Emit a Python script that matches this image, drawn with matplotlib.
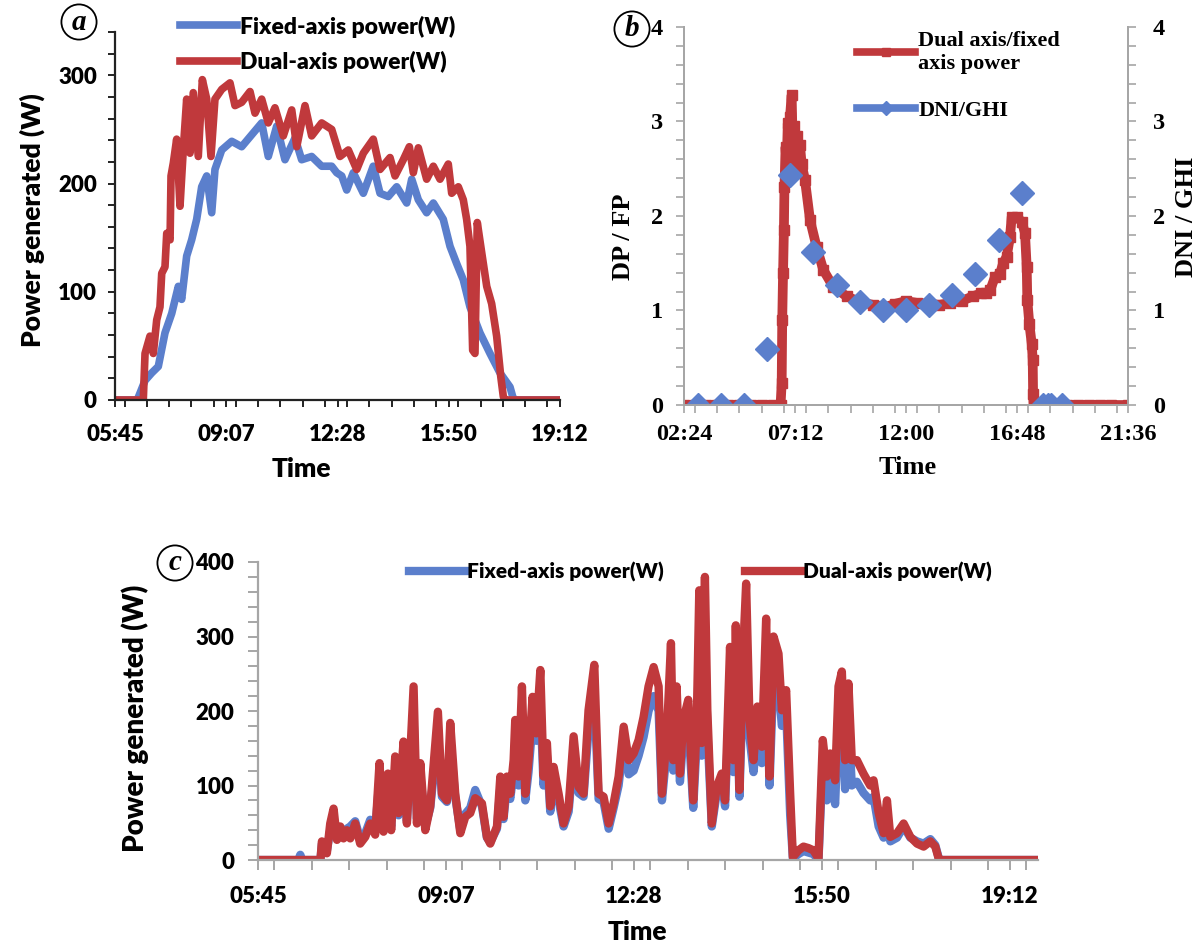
import matplotlib
matplotlib.use("Agg")
import matplotlib.pyplot as plt
from matplotlib.lines import Line2D
from matplotlib.ticker import MultipleLocator

# =========================
# COLOURS / FONTS
# =========================
BLUE = "#5b7fcc"
RED = "#c0393c"
GRAY = "#a6a6a6"
SANS = "Lato"
SERIF = "Liberation Serif"

# =========================
# DATA  (time as fraction of a day, Excel style)
# =========================
# panel a - clear day
a_fixed_t = [0.240, 0.268, 0.2778, 0.2862, 0.2945, 0.3029, 0.3114, 0.3197, 0.3239, 0.3302,
             0.3365, 0.3428, 0.3491, 0.3554, 0.3617, 0.3658, 0.3743, 0.3869, 0.3994, 0.4120,
             0.4246, 0.4329, 0.4435, 0.4539, 0.4665, 0.4749, 0.4875, 0.5001, 0.5127, 0.5190,
             0.5253, 0.5316, 0.5399, 0.5525, 0.5650, 0.5735, 0.5839, 0.5945, 0.6071, 0.6134,
             0.6217, 0.6322, 0.6406, 0.6531, 0.6616, 0.6700, 0.6783, 0.6867, 0.6993, 0.7119,
             0.7245, 0.7371, 0.7405, 0.743, 0.800]
a_fixed_w = [0, 0, 18, 25, 31, 62, 80, 105, 93, 133,
             148, 167, 197, 207, 173, 213, 231, 239, 234, 245,
             256, 225, 253, 222, 242, 222, 225, 216, 216, 210,
             207, 194, 210, 191, 216, 191, 188, 197, 182, 204,
             185, 173, 182, 167, 142, 126, 111, 86, 62, 43,
             25, 12, 3, 0, 0]

a_dual_t = [0.240, 0.2756, 0.2778, 0.2840, 0.2882, 0.2925, 0.2966, 0.2988, 0.3029, 0.3051,
            0.3093, 0.3105, 0.3134, 0.3176, 0.3218, 0.3259, 0.3302, 0.3344, 0.3385, 0.3448,
            0.3499, 0.3554, 0.3608, 0.3658, 0.3743, 0.3847, 0.3910, 0.3994, 0.4099, 0.4162,
            0.4246, 0.4329, 0.4413, 0.4518, 0.4624, 0.4687, 0.4791, 0.4875, 0.5001, 0.5127,
            0.5231, 0.5336, 0.5442, 0.5525, 0.5650, 0.5735, 0.5861, 0.5924, 0.6028, 0.6104,
            0.6154, 0.6217, 0.6322, 0.6406, 0.6490, 0.6594, 0.6637, 0.6720, 0.6783, 0.6825,
            0.6867, 0.6901, 0.6930, 0.6959, 0.7015, 0.7078, 0.7140, 0.7203, 0.7254, 0.7287,
            0.731, 0.800]
a_dual_w = [0, 0, 43, 59, 43, 74, 86, 117, 123, 154,
            148, 207, 219, 241, 179, 231, 278, 228, 284, 225,
            296, 278, 225, 278, 287, 293, 272, 275, 285, 265,
            278, 256, 270, 244, 268, 234, 272, 244, 256, 250,
            225, 231, 213, 228, 241, 213, 224, 207, 222, 234,
            210, 233, 204, 216, 204, 218, 191, 197, 185, 167,
            142, 46, 43, 164, 136, 105, 89, 59, 22, 3,
            0, 0]

# panel b - ratio of dual to fixed axis power, and DNI/GHI
b_ratio_t = [0.100, 0.120, 0.140, 0.160, 0.180, 0.200, 0.220, 0.240, 0.260, 0.274,
             0.2760, 0.2770, 0.2785, 0.2800, 0.2810, 0.2830, 0.2850, 0.2870, 0.2890, 0.2910,
             0.2940, 0.2960, 0.2980, 0.3000, 0.3030, 0.3060, 0.3090, 0.3120, 0.3180, 0.3270,
             0.3390, 0.3510, 0.3690, 0.3930, 0.4170, 0.4400, 0.4650, 0.4800, 0.5000, 0.5200,
             0.5400, 0.5600, 0.5800, 0.6000, 0.6200, 0.6350, 0.6450, 0.6520, 0.6600, 0.6694,
             0.6750, 0.6814, 0.6874, 0.6904, 0.6994, 0.7085, 0.7144, 0.7175, 0.7186, 0.7222,
             0.7265, 0.7283, 0.7290, 0.7300, 0.750, 0.770, 0.790, 0.810, 0.830, 0.850,
             0.870, 0.900]
b_ratio = [0, 0, 0, 0, 0, 0, 0, 0, 0, 0,
           0.23, 0.90, 1.40, 1.85, 2.31, 2.73, 2.55, 2.98, 2.65, 3.05,
           3.28, 2.70, 2.95, 2.60, 2.85, 2.50, 2.75, 2.55, 2.38, 1.96,
           1.67, 1.43, 1.25, 1.15, 1.09, 1.06, 1.04, 1.07, 1.10, 1.08,
           1.07, 1.06, 1.08, 1.10, 1.15, 1.18, 1.18, 1.22, 1.35, 1.39,
           1.50, 1.57, 1.78, 1.99, 1.99, 1.94, 1.82, 1.46, 1.11, 0.86,
           0.65, 0.48, 0.12, 0, 0, 0, 0, 0, 0, 0,
           0, 0]

b_dni_t = [0.125, 0.1667, 0.2083, 0.2500, 0.2917, 0.3333, 0.3750, 0.4167, 0.4583, 0.5000,
           0.5417, 0.5833, 0.6250, 0.6667, 0.7083, 0.747, 0.755, 0.762, 0.781]
b_dni = [0, 0, 0, 0.59, 2.43, 1.62, 1.27, 1.09, 1.01, 1.005,
         1.06, 1.16, 1.39, 1.75, 2.24, 0, 0, 0, 0]

# panel c - cloudy day
c_t = [0.2400, 0.2700, 0.2715, 0.2730, 0.2865, 0.2876, 0.2913, 0.2938, 0.2963, 0.2988,
       0.3013, 0.3037, 0.3062, 0.3087, 0.3124, 0.3161, 0.3199, 0.3236, 0.3273, 0.3305,
       0.3335, 0.3368, 0.3392, 0.3422, 0.3447, 0.3484, 0.3509, 0.3559, 0.3584, 0.3609,
       0.3646, 0.3683, 0.3740, 0.3770, 0.3807, 0.3832, 0.3869, 0.3907, 0.3944, 0.3981,
       0.4018, 0.4068, 0.4105, 0.4130, 0.4180, 0.4205, 0.4229, 0.4254, 0.4279, 0.4304,
       0.4316, 0.4341, 0.4366, 0.4391, 0.4415, 0.4445, 0.4473, 0.4503, 0.4527, 0.4552,
       0.4577, 0.4602, 0.4639, 0.4676, 0.4714, 0.4751, 0.4788, 0.4825, 0.4862, 0.4905,
       0.4937, 0.4974, 0.5012, 0.5049, 0.5086, 0.5124, 0.5161, 0.5198, 0.5235, 0.5272,
       0.5309, 0.5347, 0.5384, 0.5409, 0.5446, 0.5476, 0.5493, 0.5518, 0.5543, 0.5568,
       0.5605, 0.5642, 0.5668, 0.5687, 0.5705, 0.5729, 0.5747, 0.5780, 0.5817, 0.5854,
       0.5879, 0.5916, 0.5941, 0.5959, 0.5986, 0.6011, 0.6036, 0.6061, 0.6091, 0.6120,
       0.6153, 0.6185, 0.6210, 0.6240, 0.6277, 0.6302, 0.6334, 0.6364, 0.6384, 0.6426,
       0.6463, 0.6500, 0.6537, 0.6575, 0.6607, 0.6637, 0.6662, 0.6699, 0.6724, 0.6749,
       0.6773, 0.6798, 0.6823, 0.6861, 0.6910, 0.6960, 0.6985, 0.7023, 0.7060, 0.7085,
       0.7110, 0.7160, 0.7209, 0.7259, 0.7309, 0.7358, 0.7408, 0.7445, 0.7470, 0.7480,
       0.8210]
c_dual = [0, 0, 0, 0, 0, 25, 9, 49, 69, 27,
          45, 29, 40, 29, 49, 22, 31, 49, 34, 130,
          38, 116, 40, 139, 63, 159, 49, 233, 49, 130,
          40, 72, 199, 89, 80, 184, 89, 36, 58, 63,
          83, 76, 31, 22, 45, 112, 58, 112, 89, 134,
          188, 112, 233, 89, 134, 219, 170, 255, 112, 157,
          72, 125, 89, 49, 72, 166, 98, 89, 201, 262,
          89, 85, 49, 76, 112, 179, 134, 143, 161, 192,
          233, 259, 233, 89, 170, 291, 134, 233, 116, 188,
          215, 80, 184, 362, 157, 380, 201, 49, 98, 116,
          80, 286, 134, 315, 94, 268, 371, 188, 134, 206,
          152, 324, 112, 300, 277, 201, 228, 89, 4, 13,
          18, 16, 13, 2, 161, 112, 143, 107, 233, 253,
          134, 237, 134, 134, 116, 100, 107, 63, 36, 80,
          31, 36, 49, 31, 22, 18, 25, 18, 2, 0,
          0]
c_fixed = [0, 0, 7, 0, 0, 22, 12, 40, 55, 30,
           40, 35, 42, 45, 52, 28, 36, 54, 40, 110,
           42, 100, 45, 120, 60, 135, 52, 190, 55, 115,
           45, 70, 170, 85, 78, 160, 85, 40, 62, 70,
           94, 72, 30, 24, 42, 98, 55, 100, 82, 118,
           160, 100, 195, 80, 118, 185, 160, 210, 100, 140,
           65, 112, 80, 45, 65, 145, 90, 85, 175, 220,
           82, 78, 42, 70, 100, 160, 115, 120, 140, 165,
           200, 220, 200, 80, 150, 240, 120, 195, 105, 165,
           185, 70, 160, 290, 140, 300, 175, 45, 90, 105,
           72, 240, 118, 260, 85, 225, 300, 165, 118, 175,
           130, 270, 100, 250, 235, 180, 200, 60, 2, 8,
           12, 10, 8, 0, 135, 80, 110, 75, 190, 205,
           95, 190, 100, 105, 90, 80, 85, 45, 30, 55,
           25, 30, 45, 30, 25, 22, 28, 20, 3, 0,
           0]

a_ticks = [0.24, 0.38, 0.52, 0.66, 0.80]
a_ticklabels = ["05:45", "09:07", "12:28", "15:50", "19:12"]
b_ticks = [0.1, 0.3, 0.5, 0.7, 0.9]
b_ticklabels = ["02:24", "07:12", "12:00", "16:48", "21:36"]

# =========================
# FIGURE
# =========================
fig = plt.figure(figsize=(11.96, 9.47), dpi=100)
W, H = 1196, 947


def box(x0, y0, x1, y1):
    # pixel box (top-left origin) -> figure fraction
    return [x0 / W, 1 - y1 / H, (x1 - x0) / W, (y1 - y0) / H]


def circled(x, y, letter):
    fig.text(x / W, 1 - y / H, letter, family=SERIF, style="italic", weight="bold",
             fontsize=21, ha="center", va="center",
             bbox=dict(boxstyle="circle,pad=0.14", fc="white", ec="black", lw=1.3))


def style_sans(ax, spine_color, ticklen):
    for s in ["top", "right"]:
        ax.spines[s].set_visible(False)
    for s in ["left", "bottom"]:
        ax.spines[s].set_color(spine_color)
        ax.spines[s].set_linewidth(1.6)
    ax.tick_params(which="both", direction="out", length=ticklen, width=1.4,
                   color=spine_color, labelsize=16)
    for lab in ax.get_xticklabels() + ax.get_yticklabels():
        lab.set_family(SANS)
        lab.set_weight("heavy")


# =========================
# (a) CLEAR DAY POWER
# =========================
ax_a = fig.add_axes(box(115, 32, 560, 400))
ax_a.plot(a_fixed_t, a_fixed_w, color=BLUE, lw=5.5, solid_joinstyle="round",
          label="Fixed-axis power(W)")
ax_a.plot(a_dual_t, a_dual_w, color=RED, lw=5.5, solid_joinstyle="round",
          label="Dual-axis power(W)")
ax_a.set_xlim(0.24, 0.80)
ax_a.set_ylim(0, 340)
ax_a.set_xticks(a_ticks)
ax_a.set_xticklabels(a_ticklabels)
ax_a.xaxis.set_minor_locator(MultipleLocator(0.028))
ax_a.set_yticks([0, 100, 200, 300])
ax_a.yaxis.set_minor_locator(MultipleLocator(20))
style_sans(ax_a, "#222222", 5)
ax_a.tick_params(axis="x", pad=12)
ax_a.tick_params(axis="y", pad=8)
ax_a.set_xlabel("Time", family=SANS, weight="heavy", fontsize=19)
ax_a.set_ylabel("Power generated (W)", family=SANS, weight="heavy", fontsize=19)
ax_a.xaxis.set_label_coords(0.418, -0.155)
ax_a.yaxis.set_label_coords(-0.158, 0.49)
ax_a.legend(loc="upper left", bbox_to_anchor=(0.145, 1.045), frameon=False,
            borderpad=0, borderaxespad=0, handlelength=2.5, handletextpad=0.15,
            labelspacing=0.6, prop=dict(family=SANS, weight="heavy", size=16.5))
circled(79, 22, "a")

# =========================
# (b) DP/FP AND DNI/GHI
# =========================
ax_b = fig.add_axes(box(684, 27, 1128, 405))
ax_b.plot(b_ratio_t, b_ratio, color=RED, lw=7, marker="s", ms=7.5, mec=RED)
ax_b.set_xlim(0.1, 0.9)
ax_b.set_ylim(0, 4)
ax_b.set_xticks(b_ticks)
ax_b.set_xticklabels(b_ticklabels)
ax_b.xaxis.set_minor_locator(MultipleLocator(0.04))
ax_b.yaxis.set_major_locator(MultipleLocator(1))
ax_b.yaxis.set_minor_locator(MultipleLocator(0.2))
ax_b2 = ax_b.twinx()
ax_b2.plot(b_dni_t, b_dni, ls="none", marker="D", ms=12, color=BLUE)
ax_b2.set_ylim(0, 4)
ax_b2.yaxis.set_major_locator(MultipleLocator(1))
ax_b2.yaxis.set_minor_locator(MultipleLocator(0.2))
for ax in (ax_b, ax_b2):
    ax.spines["top"].set_visible(False)
    for s in ["left", "right", "bottom"]:
        ax.spines[s].set_color(GRAY)
        ax.spines[s].set_linewidth(1.4)
    ax.tick_params(which="both", direction="out", length=6, width=1.2, color=GRAY,
                   labelsize=17.5)
    for lab in ax.get_xticklabels() + ax.get_yticklabels():
        lab.set_family(SERIF)
        lab.set_weight("bold")
ax_b.tick_params(axis="x", pad=8)
ax_b.tick_params(axis="y", pad=9)
ax_b2.tick_params(axis="y", pad=12)
ax_b.set_xlabel("Time", family=SERIF, weight="bold", fontsize=19)
ax_b.set_ylabel("DP / FP", family=SERIF, weight="bold", fontsize=19)
ax_b2.set_ylabel("DNI / GHI", family=SERIF, weight="bold", fontsize=19)
ax_b.xaxis.set_label_coords(0.504, -0.135)
ax_b.yaxis.set_label_coords(-0.11, 0.444)
ax_b2.yaxis.set_label_coords(1.105, 0.497)
b_handles = [Line2D([], [], color=RED, lw=5.5, marker="s", ms=6),
             Line2D([], [], color=BLUE, lw=5.5, marker="D", ms=7)]
ax_b2.legend(b_handles, ["Dual axis/fixed\naxis power", "DNI/GHI"], loc="upper left",
             bbox_to_anchor=(0.39, 0.99), frameon=False, borderpad=0, borderaxespad=0,
             handlelength=2.6, handletextpad=0.15, labelspacing=1.2,
             prop=dict(family=SERIF, weight="bold", size=16))
circled(632, 29, "b")

# =========================
# (c) CLOUDY DAY POWER
# =========================
ax_c = fig.add_axes(box(258, 562, 1038, 860))
ax_c.plot(c_t, c_fixed, color=BLUE, lw=6, solid_joinstyle="round",
          label="Fixed-axis power(W)")
ax_c.plot(c_t, c_dual, color=RED, lw=6, solid_joinstyle="round",
          label="Dual-axis power(W)")
ax_c.set_xlim(0.24, 0.821)
ax_c.set_ylim(0, 400)
ax_c.set_xticks(a_ticks)
ax_c.set_xticklabels(a_ticklabels)
ax_c.xaxis.set_minor_locator(MultipleLocator(0.028))
ax_c.set_yticks([0, 100, 200, 300, 400])
ax_c.yaxis.set_minor_locator(MultipleLocator(20))
style_sans(ax_c, GRAY, 7)
ax_c.tick_params(axis="x", pad=12)
ax_c.tick_params(axis="y", pad=10)
ax_c.set_xlabel("Time", family=SANS, weight="heavy", fontsize=19)
ax_c.set_ylabel("Power generated (W)", family=SANS, weight="heavy", fontsize=20)
ax_c.xaxis.set_label_coords(0.486, -0.2)
ax_c.yaxis.set_label_coords(-0.14, 0.476)
ax_c.legend(loc="upper left", bbox_to_anchor=(0.193, 1.0), ncol=2, frameon=False,
            borderpad=0, borderaxespad=0, handlelength=2.7, handletextpad=0.1,
            columnspacing=3.9, prop=dict(family=SANS, weight="heavy", size=15))
circled(175, 563, "c")

fig.savefig("out.png", dpi=100, facecolor="white")
